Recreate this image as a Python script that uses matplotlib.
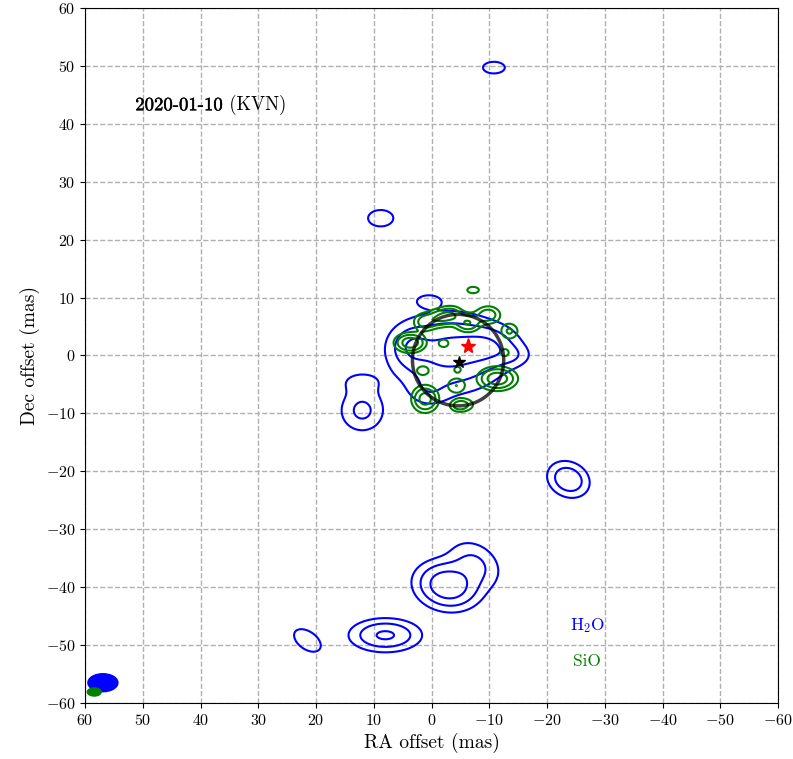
import numpy as np
import matplotlib
matplotlib.use("Agg")
import matplotlib.pyplot as plt
import matplotlib.patheffects as pe
from matplotlib.patches import Ellipse, Circle

plt.rcParams['font.family'] = 'cmr10'
plt.rcParams['mathtext.fontset'] = 'cm'
plt.rcParams['axes.formatter.use_mathtext'] = True

# H2O components: ra, dec, sigma_major, sigma_minor, angle (deg), peak
h2o_ra = [-10.8, 8.8, 0.5, 21.5, 8.0, -2.8, -7.5, -23.7, 12.0, 12.3,
          -3.0, -10.0, 3.5, -14.0, 0.5]
h2o_dec = [49.7, 23.7, 9.4, -49.2, -48.3, -39.7, -36.0, -21.4, -9.5, -4.6,
           0.5, 1.5, 1.5, 0.0, -6.0]
h2o_smaj = [1.6, 1.85, 1.45, 2.2, 3.45, 3.1, 3.0, 2.2, 2.4, 2.6,
            5.5, 3.0, 2.0, 2.0, 2.3]
h2o_smin = [0.85, 1.2, 0.75, 1.3, 1.6, 2.27, 2.2, 1.75, 2.3, 1.4,
            3.8, 2.0, 2.0, 1.2, 1.8]
h2o_ang = [0, 0, 0, 35, 0, 10, 35, 25, 0, 0,
           0, 0, 0, 0, 0]
h2o_peak = [0.2, 0.2, 0.2, 0.2, 0.55, 0.8, 0.28, 0.45, 0.3, 0.13,
            0.6, 0.35, 0.3, 0.15, 0.15]

# SiO components
sio_ra = [-7.2, 1.1, -1.5, -3.5, -6.3, -9.8, 3.7, -2.1, -13.5, -12.7,
          1.5, 1.1, -4.3, -4.5, -4.5, -11.4, -5.6]
sio_dec = [11.3, 5.8, 6.5, 7.0, 5.6, 7.0, 2.2, 2.1, 4.2, 0.5,
           -2.6, -7.5, -5.2, -8.7, -2.4, -4.0, -8.5]
sio_smaj = [1.1, 1.3, 1.3, 1.3, 1.4, 1.4, 1.6, 0.9, 1.1, 0.9,
            1.1, 1.4, 1.2, 1.0, 0.7, 2.0, 1.3]
sio_smin = [0.6, 1.0, 1.0, 1.0, 1.0, 1.0, 1.0, 0.7, 1.0, 0.8,
            0.8, 1.4, 1.0, 0.7, 0.6, 1.2, 0.8]
sio_peak = [0.15, 0.3, 0.3, 0.3, 0.35, 0.3, 0.5, 0.15, 0.22, 0.13,
            0.15, 0.45, 0.2, 0.15, 0.13, 0.5, 0.2]

h2o_levels = [0.1, 0.25, 0.5]
sio_levels = [0.1, 0.2, 0.35]

# stellar position / ring
ring_ra, ring_dec, ring_r = -4.6, -0.8, 7.9
star_ra, star_dec = -4.8, -1.1
sio_star_ra, sio_star_dec = -6.3, 1.6


def gauss_map(X, Y, ra, dec, smaj, smin, ang, peak):
    Z = np.zeros_like(X)
    for x0, y0, a, b, t, p in zip(ra, dec, smaj, smin, ang, peak):
        t = np.radians(t)
        dx, dy = X - x0, Y - y0
        u = dx*np.cos(t) + dy*np.sin(t)
        v = -dx*np.sin(t) + dy*np.cos(t)
        Z += p*np.exp(-0.5*((u/a)**2 + (v/b)**2))
    return Z


x = np.linspace(-60, 60, 1201)
y = np.linspace(-60, 60, 1201)
X, Y = np.meshgrid(x, y)
Zh = gauss_map(X, Y, h2o_ra, h2o_dec, h2o_smaj, h2o_smin, h2o_ang, h2o_peak)
Zs = gauss_map(X, Y, sio_ra, sio_dec, sio_smaj, sio_smin, [0]*len(sio_ra), sio_peak)

fig = plt.figure(figsize=(7.93, 7.59), dpi=100)
ax = fig.add_axes([0.1072, 0.0738, 0.8739, 0.9157])

ax.contour(X, Y, Zh, levels=h2o_levels, colors='blue', linewidths=1.5)
ax.contour(X, Y, Zs, levels=sio_levels, colors='green', linewidths=1.5)

ax.add_patch(Circle((ring_ra, ring_dec), ring_r, fill=False, ec='black',
                    lw=2.5, alpha=0.75, zorder=3))
ax.plot(star_ra, star_dec, '*', color='black', ms=9, zorder=4)
ax.plot(sio_star_ra, sio_star_dec, '*', color='red', ms=11, zorder=4)

# restoring beams
ax.add_patch(Ellipse((56.9, -56.5), 5.2, 3.1, color='blue'))
ax.add_patch(Ellipse((58.4, -58.1), 2.4, 1.4, color='green'))

t1 = ax.text(51.3, 43.2, '2020-01-10', fontsize=13.5, ha='left', va='center',
             path_effects=[pe.withStroke(linewidth=0.3, foreground='black')])
ax.annotate(' (KVN)', xy=(1, 0.5), xycoords=t1, fontsize=13.5,
            ha='left', va='center')
ax.text(-27, -46.7, 'H$_2$O', color='blue', fontsize=12.5, ha='center', va='center')
ax.text(-27, -52.8, 'SiO', color='green', fontsize=12.5, ha='center', va='center')

ax.set_xlim(60, -60)
ax.set_ylim(-60, 60)
ax.set_xticks(np.arange(60, -61, -10))
ax.set_yticks(np.arange(-60, 61, 10))
ax.tick_params(labelsize=11.5)
ax.grid(True, ls='--', color='#b0b0b0', lw=1)
ax.set_axisbelow(True)
ax.set_xlabel('RA offset (mas)', fontsize=14)
ax.set_ylabel('Dec offset (mas)', fontsize=14)

fig.savefig('out.png', dpi=100)
